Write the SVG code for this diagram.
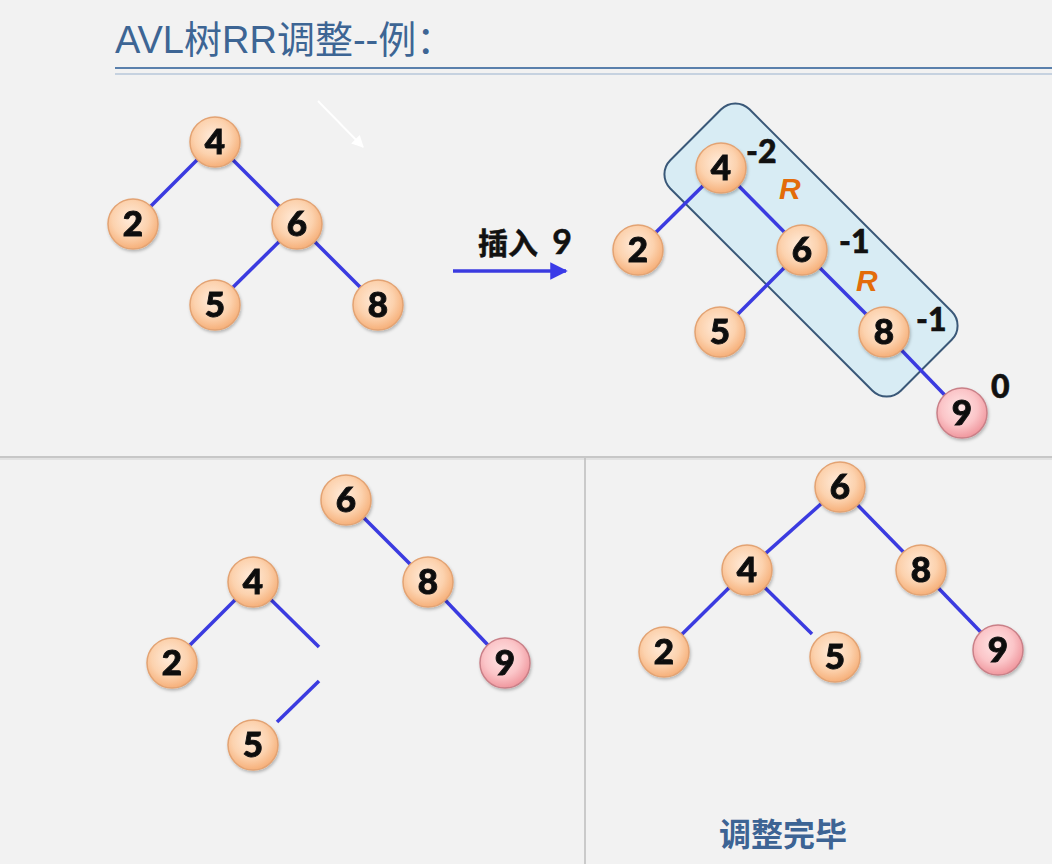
<svg xmlns="http://www.w3.org/2000/svg" width="1052" height="864" viewBox="0 0 1052 864">
<defs>
<radialGradient id="gO" cx="45%" cy="40%" r="60%">
<stop offset="0" stop-color="#FFEBDA"/>
<stop offset="0.6" stop-color="#FCD2AE"/>
<stop offset="1" stop-color="#F6B07A"/>
</radialGradient>
<radialGradient id="gP" cx="45%" cy="40%" r="60%">
<stop offset="0" stop-color="#FFE6E6"/>
<stop offset="0.6" stop-color="#FBC5C8"/>
<stop offset="1" stop-color="#F0979E"/>
</radialGradient>
<filter id="sh" x="-30%" y="-30%" width="160%" height="160%">
<feDropShadow dx="1" dy="2" stdDeviation="1.5" flood-color="#000" flood-opacity="0.25"/>
</filter>
<marker id="ab" viewBox="0 0 10 10" refX="9" refY="5" markerWidth="5" markerHeight="5" orient="auto" markerUnits="strokeWidth">
<path d="M0,0 L10,5 L0,10 z" fill="#3A3AE8"/>
</marker>
<marker id="aw" viewBox="0 0 10 10" refX="9" refY="5" markerWidth="6" markerHeight="6" orient="auto" markerUnits="strokeWidth">
<path d="M0,0 L10,5 L0,10 z" fill="#FFFFFF"/>
</marker>
<style>
.n{filter:url(#sh)}
.o{fill:url(#gO);stroke:#E3A373;stroke-width:1.5}
.p{fill:url(#gP);stroke:#C98088;stroke-width:1.5}
.t{font-family:Lato,"Liberation Sans",sans-serif;font-weight:900;font-size:35px;fill:#111;stroke:#111;stroke-width:0.9;text-anchor:middle}
.b{font-family:Lato,"Liberation Sans",sans-serif;font-weight:900;font-size:32px;fill:#111;stroke:#111;stroke-width:0.6}
.r{font-family:"Liberation Sans",Arial,sans-serif;font-weight:700;font-style:italic;font-size:30px;fill:#E36C0A}
.e line{stroke:#3B3BE0;stroke-width:3.5;stroke-linecap:butt}
</style>
</defs>
<rect x="0" y="0" width="1052" height="864" fill="#F2F2F2"/>
<line x1="0" y1="457" x2="1052" y2="457" stroke="#B8B8B8" stroke-width="1.5"/>
<line x1="0" y1="459" x2="1052" y2="459" stroke="#E2E2E2" stroke-width="2"/>
<line x1="585" y1="458" x2="585" y2="864" stroke="#BDBDBD" stroke-width="1.5"/>

<g id="title">
<text x="115" y="53" font-family="'Liberation Sans','Noto Sans CJK SC',sans-serif" font-size="38" fill="#3D6594">AVL树RR调整--例：</text>
<line x1="115" y1="68" x2="1052" y2="68" stroke="#5A80AC" stroke-width="2"/>
<line x1="115" y1="74" x2="1052" y2="74" stroke="#9AB2CE" stroke-width="1.2"/>
</g>

<g id="pointer">
<line x1="318" y1="101" x2="363" y2="147" stroke="#FFFFFF" stroke-width="2" marker-end="url(#aw)"/>
</g>

<g id="highlight">
<rect x="-163" y="-56" width="326" height="112" rx="20" fill="#D8ECF4" stroke="#3A5878" stroke-width="2" transform="translate(811 250) rotate(45)"/>
</g>

<g id="connectors" class="e">
<line x1="215" y1="142" x2="133" y2="224"/>
<line x1="215" y1="142" x2="297" y2="224"/>
<line x1="297" y1="224" x2="215" y2="305"/>
<line x1="297" y1="224" x2="378" y2="305"/>

<line x1="721" y1="168" x2="638" y2="250"/>
<line x1="721" y1="168" x2="802" y2="250"/>
<line x1="802" y1="250" x2="720" y2="332"/>
<line x1="802" y1="250" x2="884" y2="332"/>
<line x1="884" y1="332" x2="962" y2="413"/>

<line x1="253" y1="582" x2="172" y2="663"/>
<line x1="253" y1="582" x2="319" y2="647"/>
<line x1="319" y1="681" x2="277" y2="722"/>
<line x1="346" y1="500" x2="428" y2="582"/>
<line x1="428" y1="582" x2="505" y2="663"/>

<line x1="840" y1="487" x2="747" y2="570"/>
<line x1="840" y1="487" x2="921" y2="570"/>
<line x1="747" y1="570" x2="664" y2="652"/>
<line x1="747" y1="570" x2="812" y2="634"/>
<line x1="921" y1="570" x2="998" y2="650"/>

<line x1="453" y1="271" x2="566" y2="271" stroke="#3A3AE8" stroke-width="3" marker-end="url(#ab)"/>
</g>

<g id="insert-label">
<text x="478" y="254" font-family="'Liberation Sans','Noto Sans CJK SC',sans-serif" font-weight="700" font-size="30" fill="#111" stroke="#111" stroke-width="0.5">插入 <tspan dx="6" font-family="Lato,'Liberation Sans',sans-serif" font-size="34">9</tspan></text>
</g>

<g id="t1-n4" class="n"><circle cx="215" cy="142" r="25" class="o"/><text x="215" y="154" class="t">4</text></g>
<g id="t1-n2" class="n"><circle cx="133" cy="224" r="25" class="o"/><text x="133" y="236" class="t">2</text></g>
<g id="t1-n6" class="n"><circle cx="297" cy="224" r="25" class="o"/><text x="297" y="236" class="t">6</text></g>
<g id="t1-n5" class="n"><circle cx="215" cy="305" r="25" class="o"/><text x="215" y="317" class="t">5</text></g>
<g id="t1-n8" class="n"><circle cx="378" cy="305" r="25" class="o"/><text x="378" y="317" class="t">8</text></g>

<g id="t2-n4" class="n"><circle cx="721" cy="168" r="25" class="o"/><text x="721" y="180" class="t">4</text></g>
<g id="t2-n2" class="n"><circle cx="638" cy="250" r="25" class="o"/><text x="638" y="262" class="t">2</text></g>
<g id="t2-n6" class="n"><circle cx="802" cy="250" r="25" class="o"/><text x="802" y="262" class="t">6</text></g>
<g id="t2-n5" class="n"><circle cx="720" cy="332" r="25" class="o"/><text x="720" y="344" class="t">5</text></g>
<g id="t2-n8" class="n"><circle cx="884" cy="332" r="25" class="o"/><text x="884" y="344" class="t">8</text></g>
<g id="t2-n9" class="n"><circle cx="962" cy="413" r="25" class="p"/><text x="962" y="425" class="t">9</text></g>

<g id="t2-labels">
<text x="746" y="163" class="b">-2</text>
<text x="779" y="199" class="r">R</text>
<text x="839" y="253" class="b">-1</text>
<text x="856" y="291" class="r">R</text>
<text x="916" y="331" class="b">-1</text>
<text x="991" y="398" class="b">0</text>
</g>

<g id="t3-n6" class="n"><circle cx="346" cy="500" r="25" class="o"/><text x="346" y="512" class="t">6</text></g>
<g id="t3-n4" class="n"><circle cx="253" cy="582" r="25" class="o"/><text x="253" y="594" class="t">4</text></g>
<g id="t3-n8" class="n"><circle cx="428" cy="582" r="25" class="o"/><text x="428" y="594" class="t">8</text></g>
<g id="t3-n2" class="n"><circle cx="172" cy="663" r="25" class="o"/><text x="172" y="675" class="t">2</text></g>
<g id="t3-n9" class="n"><circle cx="505" cy="663" r="25" class="p"/><text x="505" y="675" class="t">9</text></g>
<g id="t3-n5" class="n"><circle cx="253" cy="745" r="25" class="o"/><text x="253" y="757" class="t">5</text></g>

<g id="t4-n6" class="n"><circle cx="840" cy="487" r="25" class="o"/><text x="840" y="499" class="t">6</text></g>
<g id="t4-n4" class="n"><circle cx="747" cy="570" r="25" class="o"/><text x="747" y="582" class="t">4</text></g>
<g id="t4-n8" class="n"><circle cx="921" cy="570" r="25" class="o"/><text x="921" y="582" class="t">8</text></g>
<g id="t4-n2" class="n"><circle cx="664" cy="652" r="25" class="o"/><text x="664" y="664" class="t">2</text></g>
<g id="t4-n5" class="n"><circle cx="835" cy="657" r="25" class="o"/><text x="835" y="669" class="t">5</text></g>
<g id="t4-n9" class="n"><circle cx="998" cy="650" r="25" class="p"/><text x="998" y="662" class="t">9</text></g>

<g id="done-label">
<text x="719" y="846" font-family="'Liberation Sans','Noto Sans CJK SC',sans-serif" font-weight="700" font-size="32" fill="#3D6494">调整完毕</text>
</g>
</svg>
